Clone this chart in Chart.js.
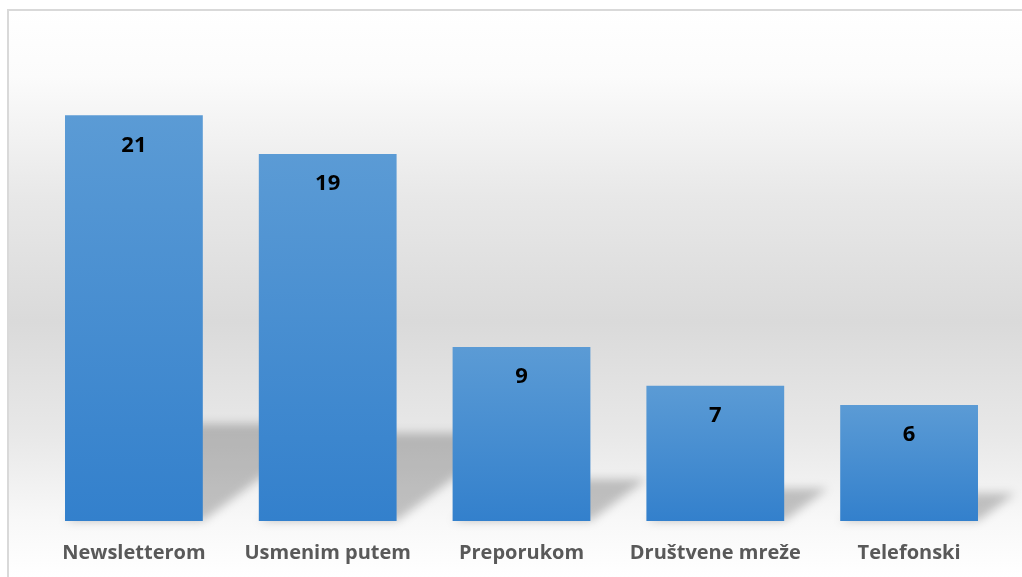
<!DOCTYPE html>
<html>
<head>
<meta charset="utf-8">
<script src="https://cdn.jsdelivr.net/npm/chart.js@4.4.1/dist/chart.umd.min.js"></script>
<style>
html,body{margin:0;padding:0;background:#fff;}
#wrap{width:1022px;height:577px;position:relative;}
</style>
</head>
<body>
<div id="wrap"><canvas id="c" width="1022" height="577"></canvas></div>
<script>
const categories = ["Newsletterom", "Usmenim putem", "Preporukom", "Društvene mreže", "Telefonski"];
const values = [21, 19, 9, 7, 6];

const bgPlugin = {
  id: 'bg',
  beforeDraw(chart) {
    const ctx = chart.ctx;
    ctx.save();
    const g = ctx.createLinearGradient(0, 9, 0, 577);
    g.addColorStop(0, '#ffffff');
    g.addColorStop(0.12, '#fbfbfb');
    g.addColorStop(0.33, '#e8e8e8');
    g.addColorStop(0.55, '#dadada');
    g.addColorStop(0.75, '#e8e8e8');
    g.addColorStop(0.90, '#f8f8f8');
    g.addColorStop(1, '#ffffff');
    ctx.fillStyle = g;
    ctx.fillRect(7, 9, 1022 - 7, 577 - 9);
    ctx.strokeStyle = '#d9d9d9';
    ctx.lineWidth = 2;
    ctx.beginPath();
    ctx.moveTo(8, 577);
    ctx.lineTo(8, 10);
    ctx.lineTo(1022, 10);
    ctx.stroke();
    ctx.restore();
  }
};

const shadowPlugin = {
  id: 'shadow',
  beforeDatasetsDraw(chart) {
    const ctx = chart.ctx;
    const meta = chart.getDatasetMeta(0);
    ctx.save();
    ctx.filter = 'blur(5px)';
    ctx.fillStyle = 'rgba(0,0,0,0.22)';
    meta.data.forEach(bar => {
      const p = bar.getProps(['x', 'y', 'base', 'width'], true);
      const H = p.base - p.y;
      const L = p.x - p.width / 2, R = p.x + p.width / 2;
      const h = 0.24 * H, dx = 0.32 * H;
      ctx.beginPath();
      ctx.moveTo(L, p.base);
      ctx.lineTo(R, p.base);
      ctx.lineTo(R + dx, p.base - h);
      ctx.lineTo(L + dx, p.base - h);
      ctx.closePath();
      ctx.fill();
    });
    ctx.restore();
  }
};

const labelPlugin = {
  id: 'vlabels',
  afterDatasetsDraw(chart) {
    const ctx = chart.ctx;
    const meta = chart.getDatasetMeta(0);
    ctx.save();
    ctx.font = 'bold 22px "Open Sans", sans-serif';
    ctx.fillStyle = '#000';
    ctx.textAlign = 'center';
    ctx.textBaseline = 'middle';
    meta.data.forEach((bar, i) => {
      ctx.fillText(String(values[i]), bar.x, bar.y + 30);
    });
    ctx.restore();
  }
};

function barGradient(context) {
  const chart = context.chart;
  const ys = chart.scales && chart.scales.y;
  if (!ys || !chart.chartArea) return '#4a8fd2';
  const v = context.raw;
  const top = ys.getPixelForValue(v);
  const base = ys.getPixelForValue(0);
  const g = chart.ctx.createLinearGradient(0, top, 0, base);
  g.addColorStop(0, '#5b9bd5');
  g.addColorStop(1, '#3380cc');
  return g;
}

new Chart(document.getElementById('c'), {
  type: 'bar',
  data: {
    labels: categories,
    datasets: [{
      data: values,
      backgroundColor: barGradient,
      borderWidth: 0,
      barPercentage: 1,
      categoryPercentage: 0.711
    }]
  },
  options: {
    responsive: false,
    animation: false,
    devicePixelRatio: 1,
    layout: { padding: { left: 37, right: 16, top: 38, bottom: 0 } },
    plugins: { legend: { display: false }, tooltip: { enabled: false } },
    scales: {
      x: {
        grid: { display: false },
        border: { display: false },
        ticks: {
          color: '#595959',
          font: { family: '"Open Sans", sans-serif', size: 20, weight: 'bold' },
          padding: 12,
          maxRotation: 0
        }
      },
      y: { display: false, min: 0, max: 25 }
    }
  },
  plugins: [bgPlugin, shadowPlugin, labelPlugin]
});
</script>
</body>
</html>
